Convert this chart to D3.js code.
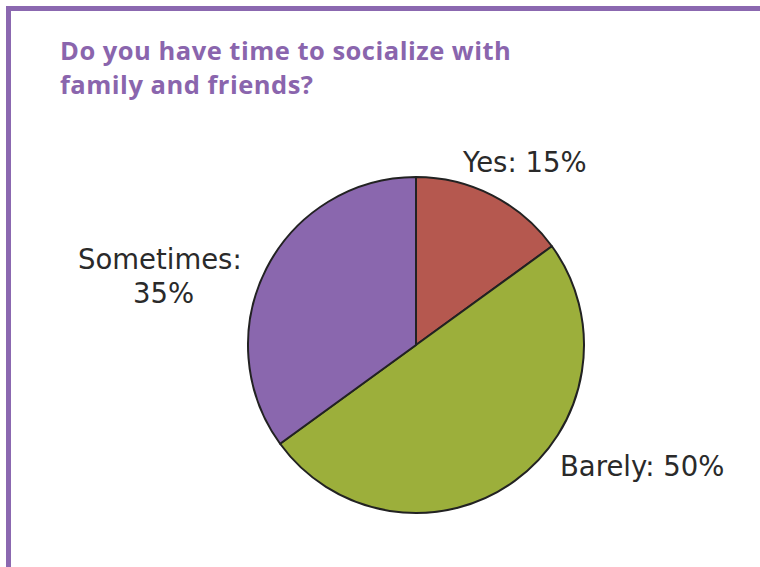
<!DOCTYPE html>
<html><head><meta charset="utf-8">
<script src="https://cdn.jsdelivr.net/npm/d3@7"></script>
<style>body{margin:0;background:#fff}svg{display:block}</style>
</head><body>
<svg id="c" width="760" height="567"></svg>
<script>
const categories = ["Yes", "Barely", "Sometimes"];
const values = [15, 50, 35];
const colors = ["#b5584f", "#9caf3b", "#8a67ae"];
const titleLines = ["Do you have time to socialize with", "family and friends?"];
const labelLines = [["Yes: 15%"], ["Barely: 50%"], ["Sometimes:", "35%"]];

const svg = d3.select("#c");
const purple = "#8b68b0";
svg.append("rect").attr("x", 6).attr("y", 6).attr("width", 754).attr("height", 5).attr("fill", purple);
svg.append("rect").attr("x", 6).attr("y", 6).attr("width", 5).attr("height", 561).attr("fill", purple);

const title = svg.append("text").attr("font-family", "'Open Sans', sans-serif")
  .attr("font-weight", 700).attr("font-size", 25.5).attr("letter-spacing", 0.5).attr("fill", "#8a65ad");
titleLines.forEach((t, i) => title.append("tspan").attr("x", 60).attr("y", 60 + i * 33.5).text(t));

const cx = 416, cy = 345, r = 168;
const pie = d3.pie().sort(null).value(d => d)(values);
const arc = d3.arc().innerRadius(0).outerRadius(r);
const g = svg.append("g").attr("transform", `translate(${cx},${cy})`);
g.selectAll("path").data(pie).join("path")
  .attr("d", arc).attr("fill", (d, i) => colors[i])
  .attr("stroke", "#222").attr("stroke-width", 2).attr("stroke-linejoin", "round");

const labelPos = [
  [{x: 463, y: 172}],
  [{x: 560, y: 476}],
  [{x: 78, y: 269}, {x: 133, y: 303}]
];
labelLines.forEach((lines, i) => {
  lines.forEach((l, j) => svg.append("text").attr("font-family", "'DejaVu Sans', sans-serif")
    .attr("font-size", 27.5).attr("fill", "#2a2a2a")
    .attr("x", labelPos[i][j].x).attr("y", labelPos[i][j].y).text(l));
});
</script>
</body></html>
